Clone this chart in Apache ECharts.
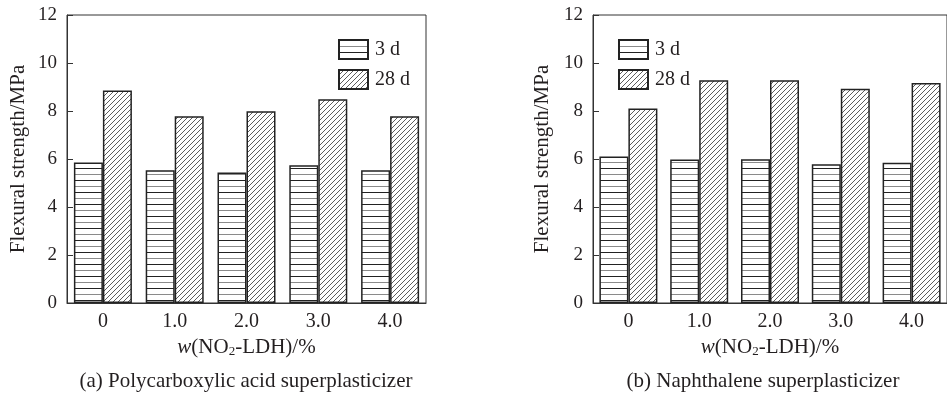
<!DOCTYPE html>
<html>
<head>
<meta charset="utf-8">
<script src="https://cdn.jsdelivr.net/npm/echarts@6/dist/echarts.min.js"></script>
<style>
  html, body { margin: 0; padding: 0; background: #fff; }
  #chart { width: 947px; height: 398px; }
</style>
</head>
<body>
<div id="chart"></div>
<script>
// data
const categories = ['0', '1.0', '2.0', '3.0', '4.0']
const yTicks = [0, 2, 4, 6, 8, 10, 12]
const seriesNames = ['3 d', '28 d']
// (a) polycarboxylic acid superplasticizer
const pcDay3 = [5.85, 5.53, 5.44, 5.74, 5.53]
const pcDay28 = [8.85, 7.78, 7.99, 8.49, 7.78]
// (b) naphthalene superplasticizer
const npDay3 = [6.10, 5.98, 5.99, 5.78, 5.84]
const npDay28 = [8.10, 9.28, 9.28, 8.93, 9.17]
const captions = ['(a) Polycarboxylic acid superplasticizer', '(b) Naphthalene superplasticizer']

const FONT = '"Liberation Serif", "Times New Roman", serif'
const INK = '#231f20'

// hatch patterns
function hLines() {
    const c = document.createElement('canvas')
    c.width = 8
    c.height = 12
    const ctx = c.getContext('2d')
    ctx.fillStyle = '#fff'
    ctx.fillRect(0, 0, 8, 12)
    ctx.fillStyle = '#222'
    ctx.fillRect(0, 0, 8, 1)
    ctx.fillStyle = '#8a8a8a'
    ctx.fillRect(0, 6, 8, 1)
    return c
}
function diagLines() {
    const s = 5
    const c = document.createElement('canvas')
    c.width = s
    c.height = s
    const ctx = c.getContext('2d')
    ctx.fillStyle = '#fff'
    ctx.fillRect(0, 0, s, s)
    ctx.strokeStyle = '#333'
    ctx.lineWidth = 0.8
    ctx.beginPath()
    ctx.moveTo(0, s); ctx.lineTo(s, 0)
    ctx.moveTo(-1, 1); ctx.lineTo(1, -1)
    ctx.moveTo(s - 1, s + 1); ctx.lineTo(s + 1, s - 1)
    ctx.stroke()
    return c
}
const fill3 = { image: hLines(), repeat: 'repeat' }
const fill28 = { image: diagLines(), repeat: 'repeat' }

const grids = [
    { left: 67, top: 15, width: 359, height: 288 },
    { left: 593, top: 15, width: 360, height: 288 }
]

function xAxisFor(i) {
    return {
        type: 'category',
        gridIndex: i,
        data: categories,
        axisLine: { lineStyle: { color: '#333', width: 1 } },
        axisTick: { show: false },
        axisLabel: { color: INK, fontFamily: FONT, fontSize: 20, margin: 9 },
        name: '{i|w}(NO{s|2}-LDH)/%',
        nameLocation: 'middle',
        nameGap: 31,
        nameTextStyle: {
            color: INK,
            fontFamily: FONT,
            fontSize: 21,
            rich: {
                i: { fontStyle: 'italic', fontFamily: FONT, fontSize: 21, color: INK },
                s: { fontFamily: FONT, fontSize: 13, color: INK, verticalAlign: 'bottom', lineHeight: 13, padding: [7, 0, 0, 0] }
            }
        }
    }
}

function yAxisFor(i, gap) {
    return {
        type: 'value',
        gridIndex: i,
        min: yTicks[0],
        max: yTicks[yTicks.length - 1],
        interval: 2,
        axisLine: { show: true, lineStyle: { color: '#333', width: 1 } },
        axisTick: { show: true, inside: true, length: 6, lineStyle: { color: '#333' } },
        splitLine: { show: false },
        axisLabel: { color: INK, fontFamily: FONT, fontSize: 19, margin: 10 },
        name: 'Flexural strength/MPa',
        nameLocation: 'middle',
        nameGap: gap,
        nameTextStyle: { color: INK, fontFamily: FONT, fontSize: 21 }
    }
}

function barSeries(name, data, fill, i) {
    return {
        name: name,
        type: 'bar',
        xAxisIndex: i,
        yAxisIndex: i,
        barWidth: 29,
        barGap: '0%',
        data: data,
        itemStyle: { color: fill, borderColor: '#222', borderWidth: 1.5 },
        emphasis: { disabled: true }
    }
}

function legendAt(left) {
    return {
        orient: 'vertical',
        left: left,
        top: 34,
        icon: 'rect',
        itemWidth: 29,
        itemHeight: 19,
        itemGap: 9,
        data: seriesNames,
        selectedMode: false,
        textStyle: { color: INK, fontFamily: FONT, fontSize: 20, padding: [2, 0, 0, 2] }
    }
}

const chart = echarts.init(document.getElementById('chart'), null, { renderer: 'canvas' })
chart.setOption({
    backgroundColor: '#fff',
    animation: false,
    legend: [legendAt(333), legendAt(613)],
    grid: grids.map(g => Object.assign({ show: true, borderColor: '#333', borderWidth: 1 }, g)),
    xAxis: [xAxisFor(0), xAxisFor(1)],
    yAxis: [yAxisFor(0, 38), yAxisFor(1, 40)],
    series: [
        barSeries(seriesNames[0], pcDay3, fill3, 0),
        barSeries(seriesNames[1], pcDay28, fill28, 0),
        barSeries(seriesNames[0], npDay3, fill3, 1),
        barSeries(seriesNames[1], npDay28, fill28, 1)
    ],
    graphic: [
        {
            type: 'text', x: 246, y: 381,
            style: { text: captions[0], fill: INK, font: '21px ' + FONT, align: 'center', verticalAlign: 'middle' }
        },
        {
            type: 'text', x: 763, y: 381,
            style: { text: captions[1], fill: INK, font: '21px ' + FONT, align: 'center', verticalAlign: 'middle' }
        }
    ]
})
</script>
</body>
</html>
